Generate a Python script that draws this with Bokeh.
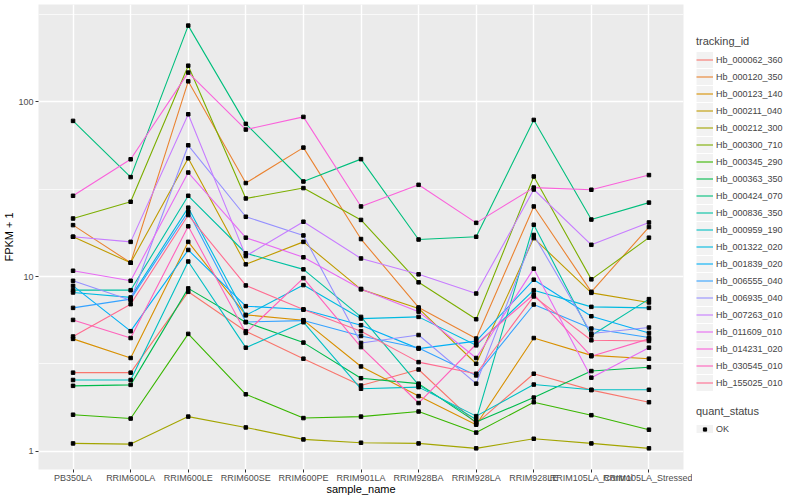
from bokeh.plotting import figure
from bokeh.layouts import row
from bokeh.models import FactorRange, Range1d, FixedTicker, Legend, LegendItem, BasicTickFormatter
from bokeh.embed import file_html
from bokeh.resources import INLINE

samples = ["PB350LA", "RRIM600LA", "RRIM600LE", "RRIM600SE", "RRIM600PE", "RRIM901LA",
           "RRIM928BA", "RRIM928LA", "RRIM928LE", "RRIM105LA_Control", "RRIM105LA_Stressed"]

tracking_ids = ["Hb_000062_360", "Hb_000120_350", "Hb_000123_140", "Hb_000211_040", "Hb_000212_300",
                "Hb_000300_710", "Hb_000345_290", "Hb_000363_350", "Hb_000424_070", "Hb_000836_350",
                "Hb_000959_190", "Hb_001322_020", "Hb_001839_020", "Hb_006555_040", "Hb_006935_040",
                "Hb_007263_010", "Hb_011609_010", "Hb_014231_020", "Hb_030545_010", "Hb_155025_010"]

colors = ["#F8766D", "#EA8331", "#D89000", "#C09B00", "#A3A500", "#7CAE00", "#39B600", "#00BB4E",
          "#00BF7D", "#00C1A3", "#00BFC4", "#00BAE0", "#00B0F6", "#35A2FF", "#9590FF", "#C77CFF",
          "#E76BF3", "#FA62DB", "#FF62BC", "#FF6C91"]

# FPKM + 1 values, one list per tracking_id, in the order of samples
Hb_000062_360 = [2.82, 2.82, 8.18, 4.87, 3.39, 2.38, 2.94, 1.44, 2.78, 2.24, 1.91]
Hb_000120_350 = [19.7, 12.0, 131, 34.3, 54.7, 16.4, 6.66, 4.42, 25.2, 8.18, 19.2]
Hb_000123_140 = [4.40, 3.42, 15.8, 6.04, 5.63, 3.06, 2.07, 1.42, 4.45, 3.54, 3.39]
Hb_000211_040 = [16.9, 12.0, 47.5, 11.75, 15.8, 8.45, 6.57, 3.17, 16.6, 8.07, 7.11]
Hb_000212_300 = [1.11, 1.10, 1.58, 1.37, 1.17, 1.12, 1.11, 1.04, 1.18, 1.11, 1.04]
Hb_000300_710 = [21.5, 26.8, 161, 28.0, 32.1, 21.1, 9.27, 5.7, 37.4, 9.64, 16.7]
Hb_000345_290 = [1.62, 1.54, 4.7, 2.12, 1.55, 1.58, 1.69, 1.28, 1.91, 1.61, 1.33]
Hb_000363_350 = [2.37, 2.40, 8.56, 5.48, 4.19, 2.62, 2.44, 1.47, 2.03, 2.88, 3.03]
Hb_000424_070 = [77.8, 37.1, 273, 74.8, 35.0, 47.0, 16.3, 16.9, 78.8, 21.2, 26.5]
Hb_000836_350 = [8.36, 8.36, 29.0, 13.6, 11.0, 5.88, 2.40, 1.52, 19.8, 4.6, 7.43]
Hb_000959_190 = [2.56, 2.56, 12.2, 3.92, 5.48, 2.28, 2.33, 1.59, 2.41, 2.25, 2.25]
Hb_001322_020 = [8.11, 7.6, 24.8, 6.0, 8.94, 5.75, 5.88, 4.04, 8.36, 6.71, 6.62]
Hb_001839_020 = [8.85, 4.87, 14.2, 6.77, 6.48, 5.27, 3.87, 4.27, 9.6, 5.93, 4.76]
Hb_006555_040 = [6.62, 7.43, 23.5, 5.5, 5.6, 4.57, 3.9, 2.72, 6.92, 5.04, 4.48]
Hb_006935_040 = [9.46, 7.33, 56.4, 22.0, 17.2, 4.17, 4.63, 2.44, 17.3, 4.72, 5.11]
Hb_007263_010 = [16.9, 15.8, 84.9, 13.1, 20.6, 12.7, 10.3, 8.0, 31.5, 15.2, 20.4]
Hb_011609_010 = [10.8, 9.46, 39.4, 16.7, 12.9, 8.5, 6.3, 3.42, 11.1, 2.64, 3.92]
Hb_014231_020 = [29.0, 46.9, 147, 69.4, 82.0, 25.2, 33.5, 20.3, 32.3, 31.4, 38.1]
Hb_030545_010 = [5.65, 4.45, 19.4, 4.76, 9.8, 3.95, 1.89, 4.1, 7.9, 3.5, 4.4]
Hb_155025_010 = [4.54, 6.95, 22.5, 8.9, 6.48, 4.87, 3.24, 2.78, 7.7, 4.32, 4.28]

series = [Hb_000062_360, Hb_000120_350, Hb_000123_140, Hb_000211_040, Hb_000212_300,
          Hb_000300_710, Hb_000345_290, Hb_000363_350, Hb_000424_070, Hb_000836_350,
          Hb_000959_190, Hb_001322_020, Hb_001839_020, Hb_006555_040, Hb_006935_040,
          Hb_007263_010, Hb_011609_010, Hb_014231_020, Hb_030545_010, Hb_155025_010]

quant_status = ["OK"]

y_major = [1, 10, 100]
y_minor = [10 ** 0.5, 10 ** 1.5, 10 ** 2.5]

FONT = "Liberation Sans"
H = 497

p = figure(width=692, height=H,
           x_range=FactorRange(factors=samples, range_padding=0.1, range_padding_units="absolute"),
           y_range=Range1d(10 ** -0.104, 10 ** 2.557), y_axis_type="log",
           output_backend="svg", toolbar_location=None,
           min_border_left=30, min_border_right=9, min_border_top=4, min_border_bottom=0)

p.background_fill_color = "#EBEBEB"
p.border_fill_color = "white"
p.outline_line_color = None

p.yaxis.ticker = FixedTicker(ticks=y_major, minor_ticks=y_minor)
p.yaxis.formatter = BasicTickFormatter()
p.xgrid.grid_line_color = "white"
p.xgrid.grid_line_width = 1.4
p.ygrid.grid_line_color = "white"
p.ygrid.grid_line_width = 1.4
p.ygrid.minor_grid_line_color = "white"
p.ygrid.minor_grid_line_width = 0.7

p.xaxis.axis_label = "sample_name"
p.yaxis.axis_label = "FPKM + 1"
for ax in [p.xaxis[0], p.yaxis[0]]:
    ax.axis_line_color = None
    ax.major_tick_line_color = "#333333"
    ax.major_tick_out = 3
    ax.major_tick_in = 0
    ax.minor_tick_line_color = None
    ax.major_label_text_font = FONT
    ax.major_label_text_font_size = "9px"
    ax.major_label_text_color = "#4D4D4D"
    ax.axis_label_text_font = FONT
    ax.axis_label_text_font_size = "11px"
    ax.axis_label_text_font_style = "normal"
    ax.axis_label_text_color = "black"
p.xaxis.major_label_standoff = 0
p.xaxis.axis_label_standoff = -3
p.yaxis.major_label_standoff = 1
p.yaxis.axis_label_standoff = 0

for vals, c in zip(series, colors):
    p.line(x=samples, y=vals, line_color=c, line_width=1.1)
for vals in series:
    p.scatter(x=samples, y=vals, marker="square", size=3.5, color="black")

# ---- legend panel (separate figure so it is not clipped) ----
lf = figure(width=92, height=H, x_range=(0, 1), y_range=(0, 1),
            output_backend="svg", toolbar_location=None,
            x_axis_location=None, y_axis_location=None, min_border=0)
lf.grid.visible = False
lf.outline_line_color = None
lf.background_fill_color = "white"
lf.border_fill_color = "white"

off = [-10, -9]  # outside the legend panel's range: these renderers only feed the legend keys
key_bg = lf.line(x=off, y=off, line_color="#F2F2F2", line_width=16)
key_bg2 = lf.line(x=off, y=off, line_color="#F2F2F2", line_width=17)
key_lines = [lf.line(x=off, y=off, line_color=c, line_width=1.1) for c in colors]
ok_pt = lf.scatter(x=off, y=off, marker="square", size=3, color="black")

items = [LegendItem(label=t, renderers=[key_bg, r]) for t, r in zip(tracking_ids, key_lines)]

B = H - 28  # frame bottom (panels are aligned with the main plot's frame)
leg1 = Legend(items=items, title="tracking_id", location=(4, B - 391),
              padding=0, margin=0, spacing=0, glyph_width=17, glyph_height=17, label_height=17,
              label_standoff=3, label_text_font=FONT, label_text_font_size="9px",
              title_text_font=FONT, title_text_font_size="11px", title_text_font_style="normal",
              title_standoff=4, border_line_color=None, background_fill_alpha=0)
leg2 = Legend(items=[LegendItem(label=quant_status[0], renderers=[key_bg2, ok_pt])], title="quant_status",
              location=(4, B - 434),
              padding=0, margin=0, spacing=0, glyph_width=17, glyph_height=8, label_height=8,
              label_standoff=3, label_text_font=FONT, label_text_font_size="9px",
              title_text_font=FONT, title_text_font_size="11px", title_text_font_style="normal",
              title_standoff=7, border_line_color=None, background_fill_alpha=0)
lf.add_layout(leg1)
lf.add_layout(leg2)

layout = row(p, lf)
open("out.html", "w").write(file_html(layout, INLINE))
